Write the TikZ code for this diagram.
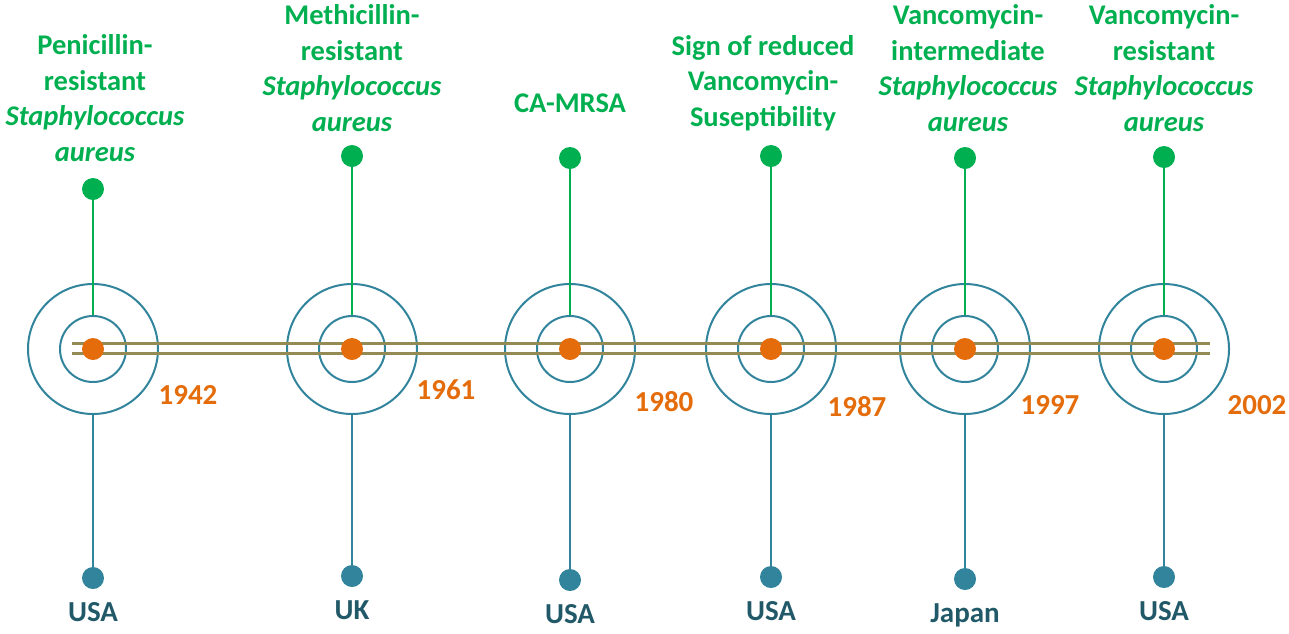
\documentclass[tikz,border=0pt]{standalone}
\usepackage{fontspec}
\setmainfont{Carlito}
\usetikzlibrary{positioning}
\definecolor{grn}{HTML}{00B050}
\definecolor{org}{HTML}{E46C0A}
\definecolor{tea}{HTML}{31849B}
\definecolor{olv}{HTML}{948A54}
\definecolor{dtea}{HTML}{215968}
\tikzset{
  ring/.style={circle,draw=tea,line width=2pt,inner sep=0pt},
  dot/.style={circle,inner sep=0pt,minimum size=22pt},
  rail/.style={olv,line width=3pt},
  event/.style={grn,font=\fontsize{28.5}{35.5}\selectfont\bfseries,align=center,inner sep=0pt},
  year/.style={org,font=\fontsize{29}{32}\selectfont\bfseries,inner sep=0pt},
  place/.style={dtea,font=\fontsize{29}{32}\selectfont\bfseries,inner sep=0pt}
}
\newcommand{\staph}{\textit{Staphylococcus}\\\textit{aureus}}
\begin{document}
\begin{tikzpicture}[x=1pt,y=-1pt]
  \useasboundingbox (0,0) rectangle (1289,633);
  % rings, stems and end dots
  \foreach \i/\x/\gy/\by/\yx/\yy/\yr/\pl in {
      1/93/189/578/188/395/1942/USA,
      2/352/156/576/446/390/1961/UK,
      3/570/158/580/664/402/1980/USA,
      4/771/156/577/857/407/1987/USA,
      5/965/158/579/1050/405/1997/Japan,
      6/1164/157/577/1257/405/2002/USA}{
    \node[ring,minimum size=130pt] (o\i) at (\x,349) {};
    \node[ring,minimum size=66pt] (n\i) at (\x,349) {};
    \node[dot,fill=grn] (g\i) at (\x,\gy) {};
    \node[dot,fill=tea] (b\i) at (\x,\by) {};
    \draw[grn,line width=2pt] (g\i) -- (n\i.north);
    \draw[tea,line width=2pt] (o\i.south) -- (b\i);
    \node[year] (y\i) at (\yx,\yy) {\yr};
    \node[place,below=13pt of b\i] (p\i) {\pl};
  }
  % double rail
  \coordinate (l) at (72,348);
  \coordinate (r) at (1210,348);
  \draw[rail] ([yshift=5pt]l) -- ([yshift=5pt]r);
  \draw[rail] ([yshift=-5pt]l) -- ([yshift=-5pt]r);
  \foreach \i/\x in {1/93,2/352,3/570,4/771,5/965,6/1164}
    \node[dot,fill=org] (c\i) at (\x,349) {};
  % event labels
  \node[event,above=16pt of g1,xshift=2pt] (t1) {Penicillin-\\resistant\\\staph};
  \node[event,above=13pt of g2] (t2) {Methicillin-\\resistant\\\staph};
  \node[event,above=34pt of g3] (t3) {CA-MRSA};
  \node[event,above=14pt of g4,xshift=-8pt] (t4) {Sign of reduced\\Vancomycin-\\Suseptibility};
  \node[event,above=15pt of g5,xshift=3pt] (t5) {Vancomycin-\\intermediate\\\staph};
  \node[event,above=14pt of g6] (t6) {Vancomycin-\\resistant\\\staph};
\end{tikzpicture}
\end{document}
